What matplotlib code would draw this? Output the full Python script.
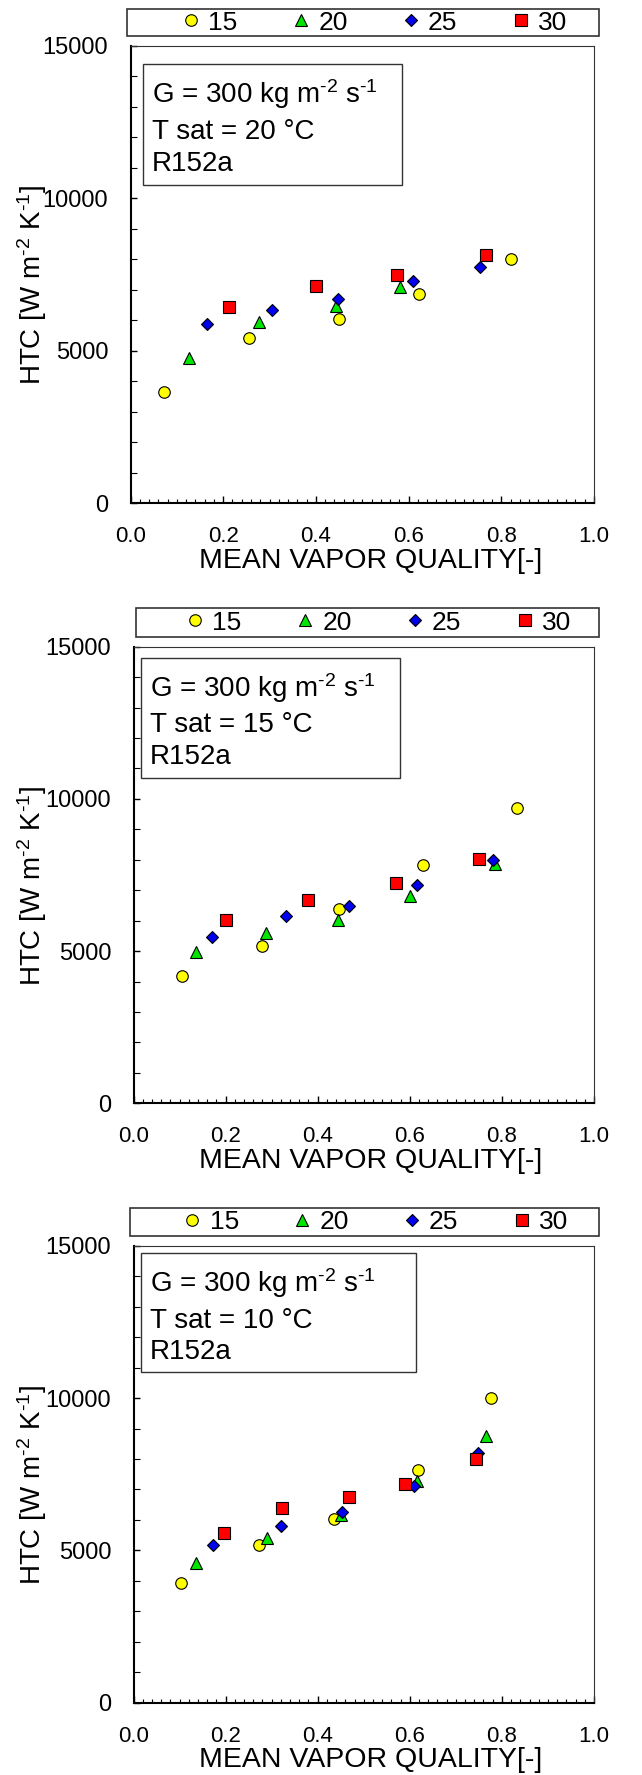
import matplotlib
matplotlib.use("Agg")
import matplotlib.pyplot as plt
from matplotlib.lines import Line2D
from matplotlib.patches import Rectangle
from matplotlib.ticker import MultipleLocator

plt.rcParams['font.family'] = ['Liberation Sans', 'DejaVu Sans']
plt.rcParams['mathtext.fontset'] = 'custom'
plt.rcParams['mathtext.rm'] = 'Liberation Sans'
plt.rcParams['mathtext.it'] = 'Liberation Sans:italic'
plt.rcParams['mathtext.default'] = 'regular'

# ---------------- data ----------------
series_labels = ["15", "20", "25", "30"]
tsat_labels = ["20", "15", "10"]

# Panel 1: T sat = 20 C
p1_x15 = [0.072, 0.256, 0.450, 0.622, 0.822]
p1_y15 = [3650, 5430, 6050, 6850, 8000]
p1_x20 = [0.126, 0.277, 0.444, 0.582]
p1_y20 = [4750, 5950, 6480, 7080]
p1_x25 = [0.164, 0.305, 0.448, 0.609, 0.754]
p1_y25 = [5890, 6340, 6700, 7300, 7730]
p1_x30 = [0.213, 0.401, 0.575, 0.766]
p1_y30 = [6420, 7120, 7490, 8140]

# Panel 2: T sat = 15 C
p2_x15 = [0.105, 0.278, 0.447, 0.628, 0.832]
p2_y15 = [4190, 5170, 6390, 7820, 9690]
p2_x20 = [0.135, 0.287, 0.444, 0.600, 0.784]
p2_y20 = [4960, 5600, 6020, 6800, 7850]
p2_x25 = [0.170, 0.331, 0.467, 0.616, 0.781]
p2_y25 = [5470, 6140, 6480, 7160, 7980]
p2_x30 = [0.201, 0.378, 0.569, 0.750]
p2_y30 = [6010, 6680, 7240, 8020]

# Panel 3: T sat = 10 C
p3_x15 = [0.103, 0.272, 0.435, 0.618, 0.776]
p3_y15 = [3940, 5180, 6020, 7640, 9990]
p3_x20 = [0.135, 0.290, 0.450, 0.615, 0.765]
p3_y20 = [4600, 5420, 6150, 7290, 8760]
p3_x25 = [0.172, 0.320, 0.452, 0.609, 0.748]
p3_y25 = [5190, 5800, 6260, 7120, 8180]
p3_x30 = [0.197, 0.323, 0.468, 0.589, 0.743]
p3_y30 = [5580, 6400, 6760, 7180, 8010]

x_ticks = [0.0, 0.2, 0.4, 0.6, 0.8, 1.0]
y_ticks = [0, 5000, 10000, 15000]

panels = [
    [(p1_x15, p1_y15), (p1_x20, p1_y20), (p1_x25, p1_y25), (p1_x30, p1_y30)],
    [(p2_x15, p2_y15), (p2_x20, p2_y20), (p2_x25, p2_y25), (p2_x30, p2_y30)],
    [(p3_x15, p3_y15), (p3_x20, p3_y20), (p3_x25, p3_y25), (p3_x30, p3_y30)],
]

# ---------------- style ----------------
markers = ['o', '^', 'D', 's']
colors = ['#FFFF00', '#00E600', '#0000EE', '#FF0000']
msizes = [8.3, 9.2, 6.1, 8.3]

W, H = 642, 1775
fig = plt.figure(figsize=(W / 100, H / 100), dpi=100)

def fx(px):
    return px / W

def fy(py):
    return 1 - py / H

# axes rectangles in pixel units (left, top, right, bottom)
ax_px = [(130.5, 46, 594, 503), (133.5, 646.7, 594, 1103.3), (133.5, 1245.7, 594, 1702.7)]
legend_px = [(126.5, 9, 599, 36), (135.5, 608, 599, 637), (129.5, 1208, 599, 1236)]
legend_center_x = [374, 378, 375]
tbox = [(0.027, 0.696, 0.586, 0.961), (0.0156, 0.712, 0.579, 0.975), (0.0156, 0.724, 0.613, 0.985)]
text_x = [0.0464, 0.0358, 0.0358]
text_base = [(0.876, 0.796, 0.727), (0.889, 0.8125, 0.743), (0.899, 0.8206, 0.752)]

for i, data in enumerate(panels):
    l, t, r, b = ax_px[i]
    ax = fig.add_axes([fx(l), fy(b), (r - l) / W, (b - t) / H])
    for j, (xs, ys) in enumerate(data):
        ax.plot(xs, ys, linestyle='none', marker=markers[j], markersize=msizes[j],
                markerfacecolor=colors[j], markeredgecolor='black', markeredgewidth=0.8,
                label=series_labels[j])
    ax.set_xlim(0, 1.0)
    ax.set_ylim(0, 15000)
    ax.set_xticks(x_ticks)
    ax.set_xticklabels([f"{v:.1f}" for v in x_ticks])
    ax.set_yticks(y_ticks)
    ax.set_yticklabels([str(v) for v in y_ticks])
    ax.xaxis.set_minor_locator(MultipleLocator(0.02))
    ax.yaxis.set_minor_locator(MultipleLocator(1000))
    ax.tick_params(axis='x', which='major', direction='in', length=5, width=1,
                   labelsize=16, pad=16.5)
    ax.tick_params(axis='x', which='minor', direction='in', length=3, width=0.8)
    ax.tick_params(axis='y', which='major', direction='in', length=4.5, width=1,
                   labelsize=17, pad=16)
    ax.tick_params(axis='y', which='minor', direction='in', length=4, width=0.8)
    for s in ['left', 'bottom']:
        ax.spines[s].set_linewidth(1.5)
        ax.spines[s].set_color('black')
    for s in ['top', 'right']:
        ax.spines[s].set_linewidth(0.8)
        ax.spines[s].set_color('#333333')

    ax.set_xlabel("MEAN VAPOR QUALITY[-]", fontsize=20.5)
    ax.xaxis.set_label_coords((370.8 - l) / (r - l), -0.098)
    ax.set_ylabel(r"HTC [W m$^{\text{-}2}$ K$^{\text{-}1}$]", fontsize=20)
    ax.yaxis.set_label_coords((49 - l) / (r - l), 0.477)

    # annotation box
    x0, y0, x1, y1 = tbox[i]
    ax.add_patch(Rectangle((x0, y0), x1 - x0, y1 - y0, transform=ax.transAxes,
                           fill=False, edgecolor='#333333', linewidth=1.0, zorder=5))
    lines = [r"G = 300 kg m$^{\text{-}2}$ s$^{\text{-}1}$", f"T sat = {tsat_labels[i]} °C", "R152a"]
    for k, txt in enumerate(lines):
        ax.text(text_x[i], text_base[i][k], txt, transform=ax.transAxes,
                fontsize=20, ha='left', va='baseline')

    # legend above the axes
    lx0, ly0, lx1, ly1 = legend_px[i]
    fig.add_artist(Rectangle((fx(lx0), fy(ly1)), (lx1 - lx0) / W, (ly1 - ly0) / H,
                             transform=fig.transFigure, fill=False,
                             edgecolor='#333333', linewidth=1.2))
    handles = [Line2D([], [], linestyle='none', marker=markers[j], markersize=msizes[j],
                      markerfacecolor=colors[j], markeredgecolor='black',
                      markeredgewidth=0.8) for j in range(4)]
    fig.legend(handles, series_labels, loc='center', ncol=4, frameon=False,
               bbox_to_anchor=(fx(legend_center_x[i]), fy((ly0 + ly1) / 2)),
               bbox_transform=fig.transFigure, fontsize=19, handlelength=0.8,
               handletextpad=0.25, columnspacing=2.0, markerscale=1.0,
               borderpad=0, borderaxespad=0)

fig.savefig("out.png", dpi=100)
